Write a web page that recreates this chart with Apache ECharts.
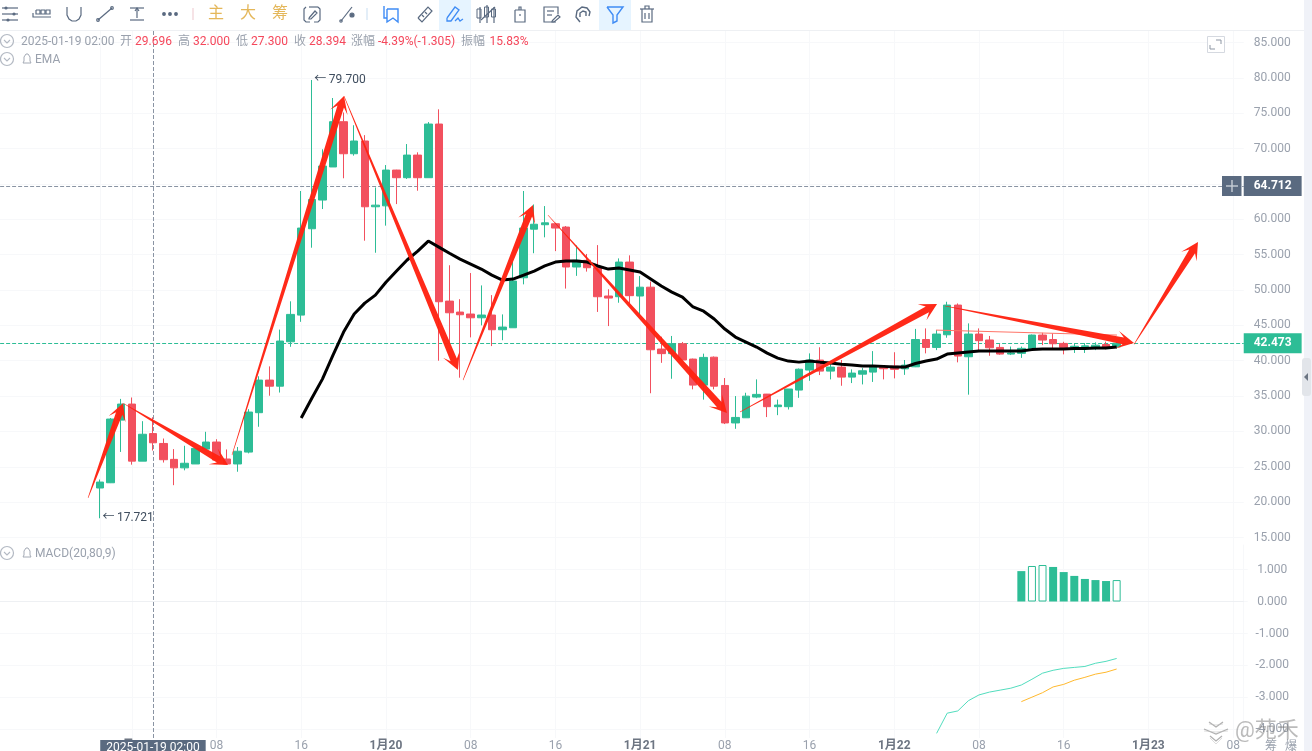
<!DOCTYPE html>
<html><head><meta charset="utf-8">
<style>html,body{margin:0;padding:0;background:#fff;overflow:hidden}#c{width:1312px;height:751px}</style>
<script src="https://cdn.jsdelivr.net/npm/echarts@6/dist/echarts.min.js"></script>
</head><body><div id="c"></div>
<script>
// candles: one per hour, first one 2025-01-18 21:00
const opens=[22.0,22.74,31.6,33.87,25.8,29.696,28.3,26.05,24.85,25.4,27.5,28.5,26.1,25.4,27.08,32.65,37.26,36.4,42.68,46.45,58.66,62.72,67.4,73.8,69.27,71.07,61.77,61.9,66.96,65.88,69.08,65.88,73.47,48.43,46.88,46.6,46.07,46.46,44.38,44.66,51.73,58.6,59.23,59.37,58.9,53.25,54.2,53.15,49.15,49.05,53.95,49.15,50.4,41.65,41.0,42.4,40.23,36.55,40.5,36.5,31.2,31.93,34.86,35.28,33.5,33.5,35.85,38.68,40.09,38.53,39.1,37.68,38.1,38.39,39.06,39.23,38.85,39.14,43.0,41.88,43.67,47.87,40.56,43.77,42.93,41.88,40.94,41.04,41.6,43.63,43.0,42.45,41.9,42.0,41.9,42.3,41.95];
const closes=[22.84,31.75,33.87,25.8,29.6,28.394,26.0,24.85,25.5,27.6,28.5,25.95,25.4,27.2,32.74,37.26,36.4,42.78,46.55,58.76,62.8,67.53,73.8,69.27,71.07,61.77,62.0,66.96,65.88,69.08,65.88,73.47,48.34,46.78,46.5,46.07,46.46,44.38,44.76,51.27,58.76,59.3,59.5,58.76,53.25,54.2,53.15,49.05,48.86,53.95,49.2,50.4,41.55,41.0,42.4,40.1,36.55,40.47,36.4,31.2,31.98,34.99,35.24,33.5,33.73,36.0,38.8,40.09,38.53,39.1,37.68,38.25,38.58,39.15,38.86,38.78,39.38,43.0,41.88,43.77,47.87,40.66,43.77,42.83,41.83,40.94,41.1,41.75,43.63,42.92,42.4,41.88,42.05,42.1,42.2,41.9,42.473];
const lows=[17.721,22.7,27.1,25.3,25.8,27.3,25.6,22.4,24.5,25.4,27.5,25.9,25.3,24.3,26.9,30.66,35.05,35.5,41.97,45.5,55.98,61.45,67.4,65.8,69.0,56.97,55.27,59.1,62.15,65.7,64.04,65.88,40.0,42.5,37.6,43.3,45.0,42.07,42.9,44.66,50.8,55.2,57.45,55.5,50.2,52.0,52.6,46.9,44.9,48.2,48.1,46.45,35.4,39.7,37.45,40.0,35.95,34.5,35.95,31.04,30.37,31.9,34.7,32.03,32.3,33.1,34.75,37.16,37.97,37.36,36.46,36.84,36.65,37.0,37.36,37.5,38.0,39.1,41.04,41.5,43.25,39.77,35.2,41.5,40.7,40.85,40.8,40.4,41.6,42.2,41.65,40.9,41.1,41.1,41.5,41.6,41.7];
const highs=[23.2,31.9,34.6,34.8,31.45,32.0,29.0,27.5,27.97,27.6,29.95,28.9,27.45,27.8,33.15,37.8,39.2,44.4,48.4,64.0,79.7,69.9,77.15,75.1,73.3,71.9,64.5,67.67,67.0,70.64,69.47,73.75,75.55,53.5,48.7,52.4,50.65,49.28,46.55,54.0,64.0,62.1,61.87,59.5,59.05,56.3,55.1,56.35,50.1,54.47,54.9,51.97,51.2,43.4,43.5,42.65,40.3,41.0,40.6,37.55,35.0,35.47,37.36,35.3,34.5,36.0,38.9,41.04,41.9,39.85,40.1,38.77,38.96,41.36,39.2,41.2,40.1,44.5,44.57,44.33,48.34,48.1,45.28,44.57,43.5,42.35,42.0,42.0,43.7,43.95,43.87,42.68,42.5,42.5,42.6,42.7,42.7];
// EMA, starts at candle 19
const emaStart=19;
const emaValues=[31.89,34.7,37.4,40.8,44.05,46.6,48.15,49.28,51.1,52.68,54.24,55.5,56.92,56.07,55.2,54.37,53.67,52.96,52.1,51.4,51.55,52.1,52.68,53.4,53.95,54.1,54.1,53.95,53.4,52.96,53.1,52.82,52.54,51.55,50.56,49.7,49.0,47.6,47.0,45.9,44.48,43.35,42.64,41.93,41.08,40.37,39.95,39.8,39.95,39.8,39.67,39.5,39.4,39.25,39.25,39.2,39.1,39.1,39.6,39.95,40.23,40.94,41.08,41.22,41.36,41.36,41.36,41.36,41.36,41.57,41.65,41.65,41.65,41.72,41.72,41.79,41.79,41.93];
// MACD panel
const difStart=79;
const difValues=[-4.12,-3.49,-3.42,-3.1,-2.92,-2.83,-2.77,-2.71,-2.61,-2.43,-2.24,-2.15,-2.09,-2.06,-2.03,-1.93,-1.87,-1.78];
const deaStart=87;
const deaValues=[-3.13,-2.99,-2.85,-2.67,-2.59,-2.46,-2.37,-2.27,-2.21,-2.11];
const histStart=87;
const histValues=[0.95,1.11,1.14,1.08,0.92,0.80,0.705,0.67,0.64,0.67];
const histHollow=[false,true,true,false,false,false,false,false,false,true];
// hand drawn arrows: [from candle, from price, to candle, to price]
const arrowSegments=[[-1.13,20.6,2.17,34.0],[2.17,34.0,12.09,25.24],[12.46,26.65,23.04,77.43],[23.04,77.43,33.8,38.68],[34.28,37.26,40.89,62.02],[42.3,60.6,59.2,32.6],[60.43,32.74,79.04,48.01],[79.8,47.73,97.64,42.5],[97.64,42.3,103.68,56.78]];
const thinLine=[[78.94,44.33],[96.03,43.63]];
const priceTicks=[85,80,75,70,65,60,55,50,45,40,35,30,25,20,15];
const macdTicks=[1,0,-1,-2,-3,-4];
const crossPrice=64.712, lastPrice=42.473, crossCandle=5, highCandle=20, highValue=79.7, lowCandle=0, lowValue=17.721;
const headerTexts=[['2025-01-19 02:00',21,'g'],['开',120,'g'],['29.696',135,'r'],['高',178,'g'],['32.000',193,'r'],['低',236,'g'],['27.300',251,'r'],['收',294,'g'],['28.394',309,'r'],['涨幅',351,'g'],['-4.39%(-1.305)',378,'r'],['振幅',461,'g'],['15.83%',489.5,'r']];

const UP='#2DBD96',DOWN='#F2505E',GRID='#F7F8FA',TXT='#9AA1AD',SLATE='#5A6A80',BLUE='#3F8CF5';
const FONT='Roboto,"Noto Sans CJK SC",sans-serif';
const PAD=10, SLOTS=119;
const categories=[];
for(let k=0;k<SLOTS;k++){const d=new Date(Date.UTC(2025,0,18,11+k));categories.push({m:d.getUTCMonth()+1,d:d.getUTCDate(),h:d.getUTCHours()});}
const catNames=categories.map(c=>c.m+'-'+c.d+' '+c.h);
const pad=(start,arr)=>new Array(PAD+start).fill('-').concat(arr);
const candleData=new Array(PAD).fill(['-','-','-','-']).concat(opens.map((o,i)=>[o,closes[i],lows[i],highs[i]]));
const showTick=(idx)=>categories[idx].h%8===0&&idx>=13;

function renderArrow(p,api){
  const a=api.coord([api.value(0),api.value(1)]),b=api.coord([api.value(2),api.value(3)]);
  const dx=b[0]-a[0],dy=b[1]-a[1],L=Math.hypot(dx,dy),ux=dx/L,uy=dy/L,nx=-uy,ny=ux;
  const at=(d,w)=>[b[0]-ux*d+nx*w,b[1]-uy*d+ny*w];
  return {type:'polygon',z2:50,shape:{points:[
    [a[0]+nx*0.25,a[1]+ny*0.25],at(11,3.4),at(17,9),[b[0],b[1]],at(17,-9),at(11,-3.4),[a[0]-nx*0.25,a[1]-ny*0.25]]},
    style:{fill:'#FF2312',opacity:0.97}};
}

const els=[];
const P=(pts,c,lw,cx,cy)=>els.push({type:'polyline',silent:true,z:100,shape:{points:pts.map(q=>[q[0]+(cx||0),q[1]+(cy||0)])},style:{fill:'none',stroke:c,lineWidth:lw||1.2}});
const C=(x,y,r,c,f,lw)=>els.push({type:'circle',silent:true,z:100,shape:{cx:x,cy:y,r:r},style:{fill:f||'none',stroke:c,lineWidth:lw||1.2}});
const R=(x,y,w,h,f,s,z,rr)=>els.push({type:'rect',silent:true,z:z||90,shape:{x:x,y:y,width:w,height:h,r:rr||0},style:{fill:f||'none',stroke:s||'none',lineWidth:1}});
const T=(text,x,y,c,size,extra)=>els.push({type:'text',silent:true,z:110,style:Object.assign({x:x,y:y+1,text:text,fill:c,font:(size||12)+'px '+FONT,verticalAlign:'middle',textAlign:'left'},extra||{})});
function icon(cx,cy,lines,c,lw){lines.forEach(l=>P(l,c,lw||1.2,cx,cy));}

// top toolbar
R(0,0,1304,30,'#fff',null,85);
R(439,0,32,30,'#E6F4FF',null,86);
R(599,0,32,30,'#E6F4FF',null,86);
P([[0,30.5],[1304,30.5]],'#EEF0F3',1);
icon(10,14,[[[-8,-6],[8,-6]],[[-8,0],[8,0]],[[-8,6],[8,6]]],SLATE);C(6,8,1,SLATE,SLATE);C(14,14,1,SLATE,SLATE);C(8,20,1,SLATE,SLATE);
icon(42,14,[[[-9,-1],[-9,3],[9,3]],[[-6,-4],[-2,-4],[-2,0],[-6,0],[-6,-4]],[[-1,-4],[3,-4],[3,0],[-1,0],[-1,-4]],[[4,-4],[8,-4],[8,0],[4,0],[4,-4]]],SLATE);
icon(74,14,[[[-7,-7],[-7,1],[-5,5],[-2,7],[2,7],[5,5],[7,1],[7,-7]]],SLATE);
icon(105,14,[[[-7,6],[7,-6]]],SLATE);C(98,20,1.3,SLATE);C(112,8,1.3,SLATE);
icon(137,14,[[[-7,-6],[7,-6]],[[-7,6],[7,6]],[[0,-6],[0,4]],[[-2,-3],[0,-6],[2,-3]]],SLATE);
C(164,14,1.3,SLATE,SLATE);C(170,14,1.3,SLATE,SLATE);C(176,14,1.3,SLATE,SLATE);
P([[193,8],[193,20]],'#F6E3E6',2);
T('主',208,13,'#E4B75A',16);T('大',240,13,'#E4B75A',16);T('筹',272,13,'#E4B75A',16);
icon(312,14,[[[-6,-7],[-8,-5],[-8,6],[-6,8],[-2,8]],[[6,-7],[8,-5],[8,6],[6,8],[2,8]],[[-3,-7],[6,-7]],[[-3,4],[3,-3],[5,-1],[-1,5],[-3,5],[-3,4]]],SLATE);
icon(347,14,[[[-6,7],[5,-7]]],SLATE);C(341,21,1.2,SLATE);C(352,15,2,SLATE,SLATE);
P([[367,8],[367,20]],'#E3EEF8',2);
icon(391,14,[[[-7,-8],[-7,4],[-4,4]],[[-4,-5],[7,-5],[7,8],[2,4],[-4,8],[-4,-5]]],BLUE,1.4);
icon(425,14,[[[-7,4],[3,-7],[7,-3],[-3,8],[-7,4]],[[-3,1],[-1,3]],[[0,-2],[2,0]]],SLATE);
icon(455,14,[[[-8,4],[0,-7],[4,-4],[-4,7],[-8,7],[-8,4]],[[0,7],[3,4],[5,7],[8,5]]],BLUE,1.3);
icon(487,14,[[[-7,-7],[-7,9]],[[0,-9],[0,9]],[[7,-7],[7,9]],[[-6,6],[8,-7]]],SLATE);R(477,9,4,9,null,SLATE,100);R(484.5,7,4,10,null,SLATE,100);R(491.5,9,4,8,null,SLATE,100);
icon(520,14,[[[-5,-4],[5,-4],[5,8],[-5,8],[-5,-4]],[[-1,-4],[-1,-7],[1,-7],[1,-4]],[[0,0],[0,2]]],SLATE);
icon(551,14,[[[5,8],[-7,8],[-7,-7],[7,-7],[7,0]],[[-4,-3],[3,-3]],[[-4,1],[1,1]],[[1,7],[7,1],[9,3],[3,8],[1,8],[1,7]]],SLATE);
icon(583,14,[[[-3,8],[-7,3],[-6,-3],[-1,-7],[4,-6],[7,-2],[6,2]],[[-3,3],[-3,-1],[0,-3],[3,-2],[3,2]]],SLATE,1.4);
icon(615,14,[[[-8,-7],[8,-7],[2,1],[2,7],[-2,9],[-2,1],[-8,-7]]],BLUE,1.4);
icon(647,14,[[[-7,-5],[7,-5]],[[-2,-5],[-2,-8],[2,-8],[2,-5]],[[-5,-5],[-5,8],[5,8],[5,-5]],[[-2,-1],[-2,5]],[[2,-1],[2,5]]],SLATE);

// header rows
const bell=(x,y)=>{P([[x-4,y+4],[x-3,y+2],[x-3,y-2],[x-1,y-5],[x+1,y-5],[x+3,y-2],[x+3,y+2],[x+4,y+4],[x-4,y+4]],'#A4AAB5',1);};
const fold=(x,y)=>{C(x,y,6.5,'#B3B9C3');P([[x-3,y-1],[x,y+2],[x+3,y-1]],'#B3B9C3',1.1);};
fold(7,41);fold(7,59);fold(7,553);bell(27,59);bell(27,553);
headerTexts.forEach(h=>T(h[0],h[1],40.5,h[2]==='r'?'#F5475B':TXT));
T('EMA',35,58.5,TXT);T('MACD(20,80,9)',35,552.5,TXT);

// fullscreen, plus box, right strip
R(1207.5,36.5,17,16,'#fff','#D5D9E0');
P([[1216,40],[1221,40],[1221,44]],'#8D96A3',1);P([[1210,45],[1210,49],[1215,49]],'#8D96A3',1);
R(1222,176,19.5,20,SLATE);P([[1226,186],[1238,186]],'#C8CED6',1.4);P([[1232,180],[1232,192]],'#C8CED6',1.4);
R(1304,0,8,751,'#F0F2F8',null,120);
R(1302,358,9,38,'#E2E5EA',null,121,3);
els.push({type:'polygon',silent:true,z:122,shape:{points:[[1308,373],[1308,381],[1304,377]]},style:{fill:'#6B7582'}});

// watermark and the clipped labels at the right bottom
T('筹',1265,746,TXT);T('爆',1285,746,TXT);
[[1216,721],[1216,728],[1216,735]].forEach((q,n)=>{const w=n===2?6:(n===1?12:7);P([[q[0]-w,q[1]+1],[q[0],q[1]+6],[q[0]+w,q[1]+1]],'rgba(150,150,150,.75)',1.3);P([[q[0]-w,q[1]+3],[q[0],q[1]+(n===2?9:4)],[q[0]+w,q[1]+3]],'rgba(190,190,190,.5)',1);});
els.push({type:'text',silent:true,z:130,style:{x:1235,y:731,text:'@苑禾',fill:'rgba(120,120,120,.5)',font:'22px '+FONT,verticalAlign:'middle'}});

const chart=echarts.init(document.getElementById('c'),null,{renderer:'canvas'});
const xCommon={type:'category',data:catNames,boundaryGap:false,axisTick:{show:false},
  splitLine:{show:true,interval:(i)=>showTick(i),lineStyle:{color:GRID,width:1}}};
const gl=-5.89,gw=118*10.59;
chart.setOption({
  animation:false,backgroundColor:'#fff',textStyle:{fontFamily:FONT},
  grid:[{left:gl,width:gw,top:30,height:515,outerBoundsMode:'none'},{left:gl,width:gw,top:545,height:193,outerBoundsMode:'none'}],
  xAxis:[
    Object.assign({},xCommon,{gridIndex:0,axisLine:{show:false},axisLabel:{show:false}}),
    Object.assign({},xCommon,{gridIndex:1,axisLine:{show:true,lineStyle:{color:'#EEF0F3'}},
      axisLabel:{show:true,margin:2,interval:(i)=>showTick(i),color:TXT,fontSize:12,fontFamily:FONT,
        formatter:(v,i)=>{const c=categories[i];if(c.h===0)return '{b|'+c.m+'月'+c.d+'}';return (c.h<10?'0':'')+c.h;},
        rich:{b:{fontWeight:'bold',color:'#6D7582',fontSize:12,fontFamily:FONT}}}}),
    {type:'value',gridIndex:0,min:-PAD,max:SLOTS-1-PAD,show:false}
  ],
  yAxis:[
    {type:'value',gridIndex:0,position:'right',min:13.94,max:86.768,axisLine:{show:true,lineStyle:{color:GRID}},
      axisTick:{show:true,length:4,lineStyle:{color:GRID},customValues:priceTicks},
      axisLabel:{customValues:priceTicks,formatter:v=>v.toFixed(3),color:TXT,fontSize:12,fontFamily:FONT,align:'center',margin:28.5},
      splitLine:{show:true,lineStyle:{color:GRID}}},
    {type:'value',gridIndex:1,position:'right',min:-4.266,max:1.766,axisLine:{show:true,lineStyle:{color:GRID}},
      axisTick:{show:true,length:4,lineStyle:{color:GRID},customValues:macdTicks},
      axisLabel:{customValues:macdTicks,formatter:v=>v.toFixed(3),color:TXT,fontSize:12,fontFamily:FONT,align:'center',margin:28.5},
      splitLine:{show:true,lineStyle:{color:GRID}}}
  ],
  series:[
    {type:'candlestick',name:'K',xAxisIndex:0,yAxisIndex:0,data:candleData,barWidth:8,z:3,
      itemStyle:{color:UP,color0:DOWN,borderColor:UP,borderColor0:DOWN,borderWidth:1},
      markLine:{silent:true,symbol:['none','none'],animation:false,z:2,precision:3,data:[
        {yAxis:crossPrice,lineStyle:{color:'#8A94A3',type:'dashed',width:1},
          label:{show:true,position:'end',distance:0,formatter:crossPrice.toFixed(3),color:'#fff',fontWeight:'bold',fontSize:12,fontFamily:FONT,backgroundColor:SLATE,padding:[5,10,3,10]}},
        {yAxis:lastPrice,lineStyle:{color:UP,type:'dashed',width:1},
          label:{show:true,position:'end',distance:0,formatter:lastPrice.toFixed(3),color:'#fff',fontWeight:'bold',fontSize:12,fontFamily:FONT,backgroundColor:UP,padding:[5,10,3,10]}},
        {xAxis:catNames[crossCandle+PAD],lineStyle:{color:'#8A94A3',type:'dashed',width:1},label:{show:false}}
      ]},
      markPoint:{silent:true,symbol:'circle',symbolSize:1,itemStyle:{color:'transparent'},animation:false,
        label:{show:true,position:'right',distance:2,color:'#3F4D5E',fontSize:12,fontFamily:FONT},
        data:[{coord:[catNames[highCandle+PAD],highValue],label:{formatter:'←\u2009'+highValue.toFixed(3)}},
              {coord:[catNames[lowCandle+PAD],lowValue],label:{formatter:'←\u2009'+lowValue.toFixed(3)}}]}
    },
    {type:'line',name:'EMA',xAxisIndex:0,yAxisIndex:0,data:pad(emaStart,emaValues),symbol:'none',z:5,connectNulls:false,
      lineStyle:{color:'#000',width:3}},
    {type:'line',name:'thin',xAxisIndex:2,yAxisIndex:0,data:thinLine,symbol:'none',z:6,lineStyle:{color:'#FF7468',width:1}},
    {type:'custom',name:'arrows',xAxisIndex:2,yAxisIndex:0,z:8,clip:false,data:arrowSegments,encode:{x:[0,2],y:[1,3]},renderItem:renderArrow},
    {type:'bar',name:'MACD',xAxisIndex:1,yAxisIndex:1,barWidth:8,z:3,
      data:pad(histStart,histValues.map((v,i)=>({value:v,itemStyle:histHollow[i]?{color:'#fff',borderColor:UP,borderWidth:1}:{color:UP}}))),
      markLine:{silent:true,symbol:['none','none'],animation:false,data:[
        {xAxis:catNames[crossCandle+PAD],lineStyle:{color:'#8A94A3',type:'dashed',width:1},
         label:{show:true,position:'start',distance:2,formatter:'2025-01-19 02:00',color:'#fff',fontSize:12,fontFamily:FONT,backgroundColor:SLATE,padding:[2,6,2,6]}}]}},
    {type:'line',name:'DIF',xAxisIndex:1,yAxisIndex:1,data:pad(difStart,difValues),symbol:'none',z:4,lineStyle:{color:'#52DDBE',width:1}},
    {type:'line',name:'DEA',xAxisIndex:1,yAxisIndex:1,data:pad(deaStart,deaValues),symbol:'none',z:4,lineStyle:{color:'#FFB92E',width:1}}
  ],
  graphic:{elements:els}
});
</script></body></html>
